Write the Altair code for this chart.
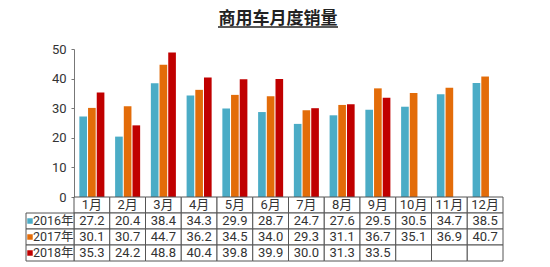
import altair as alt
import pandas as pd

months = ["1月", "2月", "3月", "4月", "5月", "6月", "7月", "8月", "9月", "10月", "11月", "12月"]
series = ["2016年", "2017年", "2018年"]
v2016 = [27.2, 20.4, 38.4, 34.3, 29.9, 28.7, 24.7, 27.6, 29.5, 30.5, 34.7, 38.5]
v2017 = [30.1, 30.7, 44.7, 36.2, 34.5, 34.0, 29.3, 31.1, 36.7, 35.1, 36.9, 40.7]
v2018 = [35.3, 24.2, 48.8, 40.4, 39.8, 39.9, 30.0, 31.3, 33.5, None, None, None]
colors = ["#4BACC6", "#E36C09", "#C00000"]
title_text = "商用车月度销量"
y_ticks = [0, 10, 20, 30, 40, 50]

FONT = "Noto Sans CJK SC"
NUMFONT = "Roboto, Noto Sans CJK SC"

rows = []
for s, vals in zip(series, [v2016, v2017, v2018]):
    for m, v in zip(months, vals):
        rows.append({"month": m, "series": s, "value": v,
                     "label": "" if v is None else f"{v:.1f}"})
df = pd.DataFrame(rows)
bar_df = df.dropna(subset=["value"])

HDR = "hdr"
tab_rows = [{"month": m, "row": HDR, "label": m} for m in months]
tab_rows += [{"month": r["month"], "row": r["series"], "label": r["label"]} for r in rows]
tab_df = pd.DataFrame(tab_rows)
row_order = [HDR] + series
lab_df = pd.DataFrame({"row": series, "series": series})

W, H = 429, 148
color_scale = alt.Scale(domain=series, range=colors)

bars = alt.Chart(bar_df).mark_bar().encode(
    x=alt.X("month:N", sort=months, axis=None,
            scale=alt.Scale(paddingInner=0.3, paddingOuter=0.15)),
    xOffset=alt.XOffset("series:N", sort=series, scale=alt.Scale(paddingInner=0.12)),
    y=alt.Y("value:Q", scale=alt.Scale(domain=[0, 50], nice=False),
            axis=alt.Axis(values=y_ticks, grid=False, title=None, domainColor="#777",
                          tickColor="#777", tickSize=3, labelPadding=5, labelFontSize=13,
                          labelColor="#333", labelFont=NUMFONT)),
    color=alt.Color("series:N", scale=color_scale, legend=None),
)
title_df = pd.DataFrame({"t": [title_text]})
title_mark = alt.Chart(title_df).mark_text(fontSize=17, font=FONT, fontWeight="bold",
                                           color="#222", baseline="alphabetic").encode(
    x=alt.value(204), y=alt.value(-25), text="t:N")
underline = alt.Chart(title_df).mark_rule(color="#222", strokeWidth=1.5).encode(
    x=alt.value(144), x2=alt.value(264), y=alt.value(-22)
)
top = alt.layer(bars, title_mark, underline).properties(width=W, height=H)

xs = alt.X("month:N", sort=months, axis=None, scale=alt.Scale(paddingInner=0, paddingOuter=0))
ys = alt.Y("row:N", sort=row_order, axis=None, scale=alt.Scale(paddingInner=0, paddingOuter=0))

cells = alt.Chart(tab_df).mark_rect(fill="white", stroke="#555", strokeWidth=1).encode(x=xs, y=ys)
cell_text = alt.Chart(tab_df).mark_text(fontSize=13, color="#333", font=NUMFONT).encode(
    x=xs, y=ys, text="label:N")
lab_cells = alt.Chart(lab_df).mark_rect(fill="white", stroke="#555", strokeWidth=1).encode(
    x=alt.value(-48), x2=alt.value(0), y=alt.Y("row:N", sort=row_order, axis=None))
lab_sq = alt.Chart(lab_df).mark_square(size=30, opacity=1).encode(
    x=alt.value(-44), y=alt.Y("row:N", sort=row_order, axis=None),
    color=alt.Color("series:N", scale=color_scale, legend=None))
lab_text = alt.Chart(lab_df).mark_text(align="left", fontSize=12.5, color="#333", font=NUMFONT).encode(
    x=alt.value(-41), y=alt.Y("row:N", sort=row_order, axis=None), text="series:N")

table = alt.layer(cells, lab_cells, cell_text, lab_sq, lab_text).properties(width=W, height=64)

chart = alt.vconcat(top, table, spacing=0, bounds="flush").resolve_scale(x="independent").properties(
    padding={"left": 25, "top": 10, "right": 5, "bottom": 3},
).configure_view(stroke=None)

chart.save("out.html", embed_options={"renderer": "svg", "actions": False})
